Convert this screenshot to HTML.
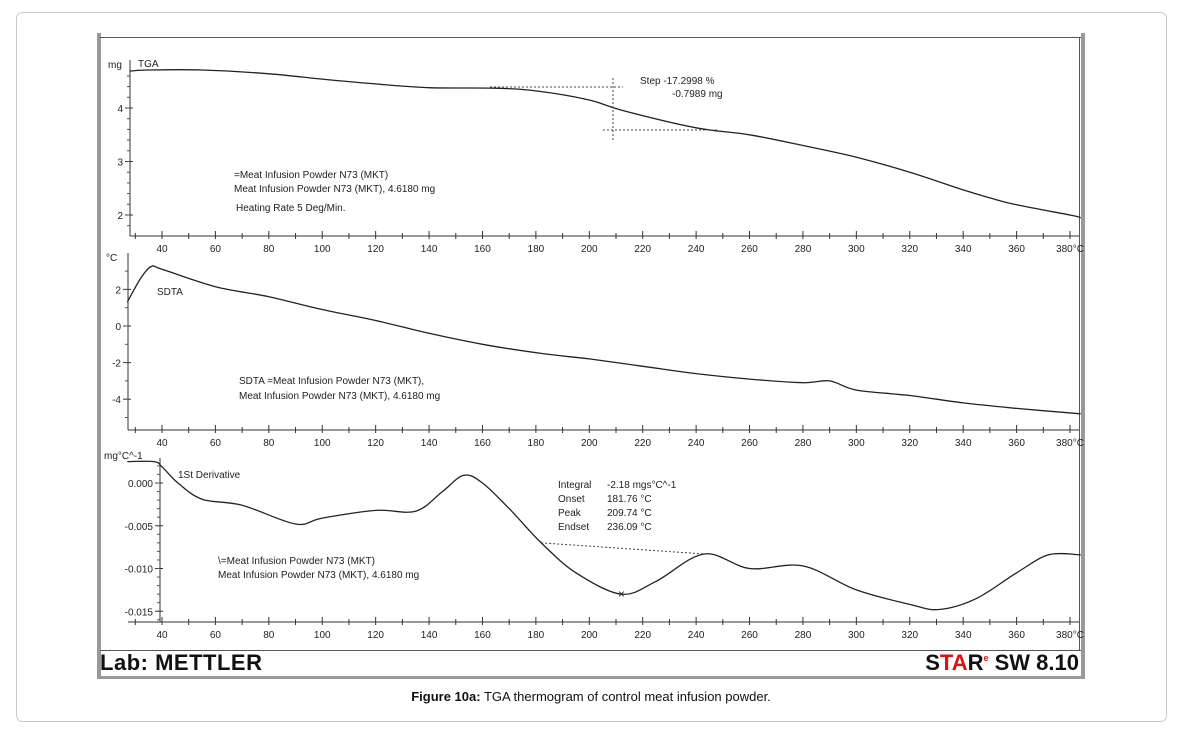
<!DOCTYPE html>
<html><head><meta charset="utf-8">
<style>
body{margin:0;background:#fff;}
svg text{font-family:"Liberation Sans",sans-serif;}
</style></head>
<body>
<svg id="chart" width="1182" height="736" viewBox="0 0 1182 736" xmlns="http://www.w3.org/2000/svg">
<rect x="16.5" y="12.5" width="1150" height="709" rx="6" fill="#fff" stroke="#c8c8c8"/>
<rect x="97" y="33" width="988" height="646" fill="#fff" stroke="none"/>
<rect x="97" y="33" width="4" height="646" fill="#9a9a9a"/>
<rect x="1081" y="33" width="4" height="646" fill="#9a9a9a"/>
<rect x="97" y="676" width="988" height="3" fill="#9a9a9a"/>
<line x1="100" y1="37.5" x2="1081" y2="37.5" stroke="#555" stroke-width="1"/>
<line x1="1079.5" y1="37" x2="1079.5" y2="650" stroke="#555"/>
<line x1="100" y1="650.5" x2="1081" y2="650.5" stroke="#555"/>
<text x="100" y="670" font-size="22" font-weight="bold" fill="#111" textLength="162">Lab: METTLER</text>
<text x="1079" y="670" font-size="22" font-weight="bold" text-anchor="end" fill="#111">S<tspan fill="#e01010">TA</tspan>R<tspan font-size="9" dy="-9" fill="#e01010">e</tspan><tspan dy="9"> SW 8.10</tspan></text>
<text x="591" y="701" font-size="13" text-anchor="middle" fill="#111"><tspan font-weight="bold">Figure 10a:</tspan> TGA thermogram of control meat infusion powder.</text>
<g id="plots"></g>
</svg>
<script>
const xTicks=[40,60,80,100,120,140,160,180,200,220,240,260,280,300,320,340,360,380];
const tgaTemps=[28,35,55,80,100,120,140,165,180,200,212,240,260,280,300,320,340,350,360,380,384];
const tgaMass=[4.69,4.71,4.71,4.64,4.54,4.45,4.38,4.37,4.32,4.15,3.96,3.63,3.5,3.3,3.08,2.8,2.47,2.32,2.19,2.0,1.95];
const tgaTicks=[2,3,4];
const sdtaTemps=[27,32,36,40,60,80,100,120,140,160,182,200,220,240,260,280,290,300,320,340,360,384];
const sdtaVals=[1.3,2.6,3.25,3.1,2.15,1.6,0.9,0.3,-0.4,-1.0,-1.5,-1.8,-2.2,-2.6,-2.9,-3.1,-3.0,-3.5,-3.8,-4.2,-4.5,-4.8];
const sdtaTicks=[-4,-2,0,2];
const derivTemps=[27,37,40,46,55,70,90,100,120,135,145,153,160,170,182,195,212,225,243,260,280,300,320,331,345,360,372,384];
const derivVals=[2.5,2.5,1.9,0,-1.9,-2.6,-4.8,-4.1,-3.2,-3.3,-1.0,0.9,0,-3,-7.0,-10.5,-13,-11.5,-8.3,-10.0,-9.7,-12.5,-14.2,-14.8,-13.5,-10.5,-8.4,-8.4];
const derivTicks=[-15,-10,-5,0];

const NS='http://www.w3.org/2000/svg';
const g=document.getElementById('plots');
const X1=1079;
const xs=t=>162+(t-40)*(1070-162)/340;
function el(tag,attrs,parent){const e=document.createElementNS(NS,tag);for(const k in attrs)e.setAttribute(k,attrs[k]);(parent||g).appendChild(e);return e;}
function txt(x,y,s,size,anchor,parent){const t=el('text',{x:x,y:y,'font-size':size||10,'text-anchor':anchor||'start',fill:'#222'},parent);t.textContent=s;return t;}
function smooth(pts){
  let d='M'+pts[0][0].toFixed(1)+','+pts[0][1].toFixed(1);
  for(let i=0;i<pts.length-1;i++){
    const p0=pts[Math.max(0,i-1)],p1=pts[i],p2=pts[i+1],p3=pts[Math.min(pts.length-1,i+2)];
    const c1=[p1[0]+(p2[0]-p0[0])/6,p1[1]+(p2[1]-p0[1])/6];
    const c2=[p2[0]-(p3[0]-p1[0])/6,p2[1]-(p3[1]-p1[1])/6];
    d+=' C'+c1[0].toFixed(1)+','+c1[1].toFixed(1)+' '+c2[0].toFixed(1)+','+c2[1].toFixed(1)+' '+p2[0].toFixed(1)+','+p2[1].toFixed(1);
  }
  return d;
}

function panel(name,top,axisY,X0,xStart,ys,ticks,fmt,minorStep,temps,vals,unit){
  const grp=el('g',{});
  
  
  el('line',{x1:X0,y1:top,x2:X0,y2:axisY,stroke:'#333'},grp);
  el('line',{x1:xStart,y1:axisY,x2:X1,y2:axisY,stroke:'#333'},grp);
  ticks.forEach(v=>{
    const y=ys(v);
    el('line',{x1:X0-5,y1:y,x2:X0+3,y2:y,stroke:'#333'},grp);
    const lab=txt(X0-7,y+4,fmt(v),10,'end',grp);
    
    
  });
  for(let v=ticks[0]-minorStep*4;v<=ticks[ticks.length-1]+minorStep*4;v+=minorStep){
    const y=ys(v); if(y<top||y>axisY)continue;
    el('line',{x1:X0-3,y1:y,x2:X0,y2:y,stroke:'#555'},grp);
  }
  for(let t=30;t<=384;t+=10){
    const x=xs(t);
    el('line',{x1:x,y1:axisY-(t%20==0?5:3),x2:x,y2:axisY+3,stroke:'#333'},grp);
  }
  xTicks.forEach(t=>{
    const lab=txt(xs(t),axisY+16,t===380?'380°C':String(t),10,'middle',grp);
    
    
  });
  const pts=temps.map((t,i)=>[xs(t),ys(vals[i])]);
  const p=el('path',{d:smooth(pts),fill:'none',stroke:'#222','stroke-width':1.3,'stroke-linejoin':'round'},grp);
  
  
  if(unit){const u=txt(X0-22,top+8,unit,10,'start',grp);
  
  }
  return grp;
}
const tgaY=v=>108-(v-4)*53.5;
const sdtaY=v=>326-v*18.3;
const derY=v=>483-v*8.55;
const g1=panel('tga',60,236,130,130,tgaY,tgaTicks,v=>String(v),0.2,tgaTemps,tgaMass,'mg');
const g2=panel('sdta',253,430,128,128,sdtaY,sdtaTicks,v=>String(v),1,sdtaTemps,sdtaVals,'°C');
const g3=panel('derivative',458,622,160,128,derY,derivTicks,v=>(v/1000).toFixed(3),1,derivTemps,derivVals,'');
let t;
t=txt(104,459,'mg°C^-1',10,'start',g3);
t=txt(138,67,'TGA',10,'start',g1);
t=txt(157,295,'SDTA',10,'start',g2);
t=txt(178,478,'1St Derivative',10,'start',g3);
[['=Meat Infusion Powder N73 (MKT)',234,178],['Meat Infusion Powder N73 (MKT), 4.6180 mg',234,192],['Heating Rate 5 Deg/Min.',236,211],
 ['SDTA =Meat Infusion Powder N73 (MKT),',239,384],['Meat Infusion Powder N73 (MKT), 4.6180 mg',239,399],
 ['\\=Meat Infusion Powder N73 (MKT)',218,564],['Meat Infusion Powder N73 (MKT), 4.6180 mg',218,578],
 ['Step  -17.2998 %',640,84],['-0.7989 mg',672,97],
 ['Integral',558,488],['-2.18 mgs°C^-1',607,488],['Onset',558,502],['181.76 °C',607,502],['Peak',558,516],['209.74 °C',607,516],['Endset',558,530],['236.09 °C',607,530]
].forEach(a=>{const e=txt(a[1],a[2],a[0],10,'start');});
el('line',{x1:490,y1:87,x2:623,y2:87,stroke:'#444','stroke-dasharray':'2,2'});
el('line',{x1:603,y1:130,x2:718,y2:130,stroke:'#444','stroke-dasharray':'2,2'});
el('line',{x1:613,y1:78,x2:613,y2:140,stroke:'#444','stroke-dasharray':'2,2'});
el('line',{x1:xs(182),y1:derY(-7.0),x2:xs(243),y2:derY(-8.3),stroke:'#444','stroke-dasharray':'2,2'});
t=txt(xs(212),derY(-13)+4,'×',12,'middle');
</script>
</body></html>
